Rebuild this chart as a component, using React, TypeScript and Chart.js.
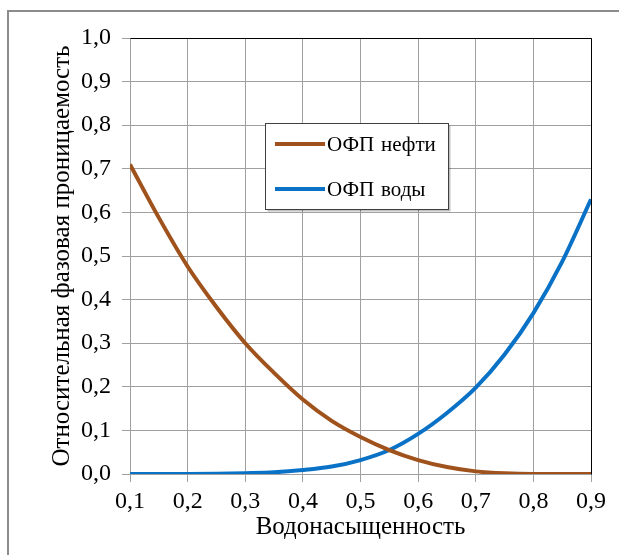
import React, { useEffect, useRef } from "react";
import { Chart, registerables } from "chart.js";

Chart.register(...registerables);

const saturation = [0.1, 0.15, 0.2, 0.25, 0.3, 0.35, 0.4, 0.45, 0.5, 0.55, 0.6, 0.65, 0.7, 0.75, 0.8, 0.85, 0.9];
const oilPerm = [0.71, 0.588, 0.476, 0.383, 0.3, 0.232, 0.171, 0.122, 0.085, 0.055, 0.032, 0.016, 0.006, 0.0015, 0, 0, 0];
const waterPerm = [0, 0, 0.0002, 0.0008, 0.002, 0.004, 0.009, 0.017, 0.032, 0.055, 0.092, 0.14, 0.198, 0.274, 0.369, 0.487, 0.63];
const seriesNames = ["ОФП нефти", "ОФП воды"];
const seriesColors = ["#A0521C", "#0A72C6"];
const xTitle = "Водонасыщенность";
const yTitle = "Относительная фазовая проницаемость";

const FONT = "'Liberation Serif', 'Times New Roman', serif";

const framePlugin = {
  id: "frame",
  beforeDraw(chart: any) {
    const ctx = chart.ctx;
    ctx.save();
    ctx.fillStyle = "#ffffff";
    ctx.fillRect(0, 0, chart.width, chart.height);
    ctx.restore();
  },
  afterDraw(chart: any) {
    const ctx = chart.ctx;
    const a = chart.chartArea;
    ctx.save();
    ctx.strokeStyle = "#8c8c8c";
    ctx.lineWidth = 2;
    ctx.strokeRect(8, 11, chart.width + 20, chart.height + 20);
    ctx.strokeStyle = "#000000";
    ctx.lineWidth = 1;
    ctx.beginPath();
    ctx.moveTo(Math.round(a.left) + 0.5, Math.round(a.top) + 0.5);
    ctx.lineTo(Math.round(a.right) + 0.5, Math.round(a.top) + 0.5);
    ctx.lineTo(Math.round(a.right) + 0.5, Math.round(a.bottom) + 0.5);
    ctx.stroke();
    const bx = 265.5, by = 123.5, bw = 183, bh = 86;
    ctx.fillStyle = "rgba(0,0,0,0.25)";
    ctx.fillRect(bx + 2, by + 2, bw, bh);
    ctx.fillStyle = "#ffffff";
    ctx.fillRect(bx, by, bw, bh);
    ctx.strokeStyle = "#404040";
    ctx.lineWidth = 1;
    ctx.strokeRect(bx, by, bw, bh);
    const rows = [144, 189];
    chart.data.datasets.forEach((ds: any, i: number) => {
      const y = rows[i];
      ctx.strokeStyle = ds.borderColor;
      ctx.lineWidth = 4;
      ctx.lineCap = "butt";
      ctx.beginPath();
      ctx.moveTo(275, y);
      ctx.lineTo(325, y);
      ctx.stroke();
      ctx.fillStyle = "#000000";
      ctx.font = `21px ${FONT}`;
      ctx.textBaseline = "middle";
      ctx.textAlign = "left";
      const [a1, ...rest] = ds.label.split(" ");
      ctx.fillText(a1, 327, y + 1);
      ctx.fillText(rest.join(" "), 381, y + 1);
    });
    ctx.restore();
  },
};

const fmt = (v: any) => Number(v).toFixed(1).replace(".", ",");

export default function App() {
  const ref = useRef<HTMLCanvasElement | null>(null);
  useEffect(() => {
    if (!ref.current) return;
    const chart = new Chart(ref.current, {
      type: "line",
      data: {
        datasets: [
          {
            label: seriesNames[0],
            data: saturation.map((x, i) => ({ x, y: oilPerm[i] })),
            borderColor: seriesColors[0],
            borderWidth: 4,
            pointRadius: 0,
            cubicInterpolationMode: "monotone",
          },
          {
            label: seriesNames[1],
            data: saturation.map((x, i) => ({ x, y: waterPerm[i] })),
            borderColor: seriesColors[1],
            borderWidth: 4,
            pointRadius: 0,
            cubicInterpolationMode: "monotone",
          },
        ],
      },
      options: {
        animation: false,
        responsive: false,
        maintainAspectRatio: false,
        layout: { padding: { left: 10, top: 38, right: 28, bottom: 0 } },
        plugins: { legend: { display: false }, tooltip: { enabled: false } },
        scales: {
          x: {
            type: "linear",
            min: 0.1,
            max: 0.9,
            afterFit: (s: any) => { s.height = 81; },
            ticks: { stepSize: 0.1, callback: fmt, color: "#000", font: { family: FONT, size: 24 }, padding: 5, maxRotation: 0 },
            grid: { color: "#a0a0a0", lineWidth: 1, tickLength: 8, tickColor: "#a0a0a0" },
            border: { color: "#a0a0a0" },
            title: { display: true, text: xTitle, color: "#000", font: { family: FONT, size: 25 }, padding: { top: 0, bottom: 13 } },
          },
          y: {
            min: 0,
            max: 1,
            afterFit: (s: any) => { s.width = 120; },
            ticks: { stepSize: 0.1, callback: fmt, color: "#000", font: { family: FONT, size: 24 }, padding: 11 },
            grid: { color: "#a0a0a0", lineWidth: 1, tickLength: 8, tickColor: "#a0a0a0" },
            border: { color: "#a0a0a0" },
            title: { display: true, text: yTitle, color: "#000", font: { family: FONT, size: 25 }, padding: { top: 37, bottom: 0 } },
          },
        },
      },
      plugins: [framePlugin],
    } as any);
    return () => chart.destroy();
  }, []);
  return (
    <div style={{ position: "fixed", left: 0, top: 0, width: 619, height: 555 }}>
      <canvas ref={ref} width={619} height={555} style={{ display: "block" }} />
    </div>
  );
}
